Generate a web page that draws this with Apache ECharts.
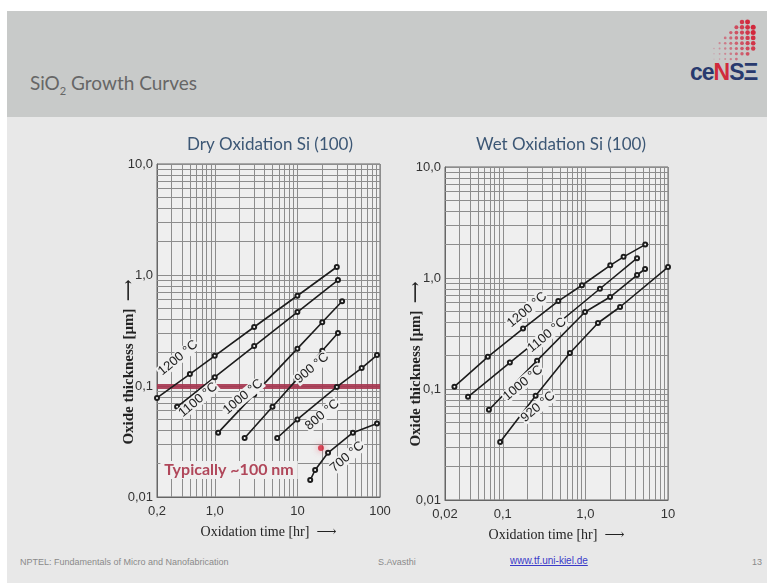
<!DOCTYPE html>
<html>
<head>
<meta charset="utf-8">
<title>SiO2 Growth Curves</title>
<script src="https://cdn.jsdelivr.net/npm/echarts@6.0.0/dist/echarts.min.js"></script>
<style>
  html, body { margin: 0; padding: 0; background: #fff; }
  #page { position: relative; width: 767px; height: 583px; overflow: hidden; background: #fff; }
  #sheet { position: absolute; left: 7px; top: 11px; right: 0; bottom: 0; background: #e8e8e8; }
  #band { position: absolute; left: 7px; top: 11px; right: 0; height: 106px; background: #c8cac9; }
  #heading { position: absolute; left: 30px; top: 71px; font: 19px Lato, "Open Sans", sans-serif; color: #666; }
  #heading sub { font-size: 11px; }
  #logo { position: absolute; left: 690px; top: 59px; font: bold 23px "Liberation Sans", Arial, sans-serif; letter-spacing: -1px; color: #283a6e; }
  #logo .n { color: #d12a3c; }
  #dots { position: absolute; left: 710px; top: 18px; }
  .foot { position: absolute; top: 557px; font: 9px "Liberation Sans Narrow", "Liberation Sans", sans-serif; color: #8a8a8a; }
  #link { color: #3a3ac8; text-decoration: underline; font-size: 10px; top: 555px; }
  #chart { position: absolute; left: 0; top: 0; width: 767px; height: 583px; }
</style>
</head>
<body>
<div id="page">
  <div id="sheet"></div>
  <div id="band"></div>
  <div id="heading">SiO<sub>2</sub> Growth Curves</div>
  <svg id="dots" width="48" height="46"></svg>
  <div id="logo">ce<span class="n">N</span>SΞ</div>
  <div class="foot" style="left:20px">NPTEL: Fundamentals of Micro and Nanofabrication</div>
  <div class="foot" style="left:378px">S.Avasthi</div>
  <div class="foot" id="link" style="left:510px">www.tf.uni-kiel.de</div>
  <div class="foot" style="left:752px">13</div>
  <div id="chart"></div>
</div>
<script>
// ---------- dry oxidation Si(100): [time hr, oxide thickness um]
const dry1200 = [[0.2, 0.078], [0.5, 0.128], [1, 0.187], [3, 0.34], [10, 0.65], [30, 1.18]];
const dry1100 = [[0.35, 0.065], [1, 0.12], [3, 0.229], [10, 0.463], [31, 0.9]];
const dry1000 = [[1.1, 0.038], [3, 0.084], [10, 0.217], [20, 0.375], [34.8, 0.58]];
const dry900  = [[2.3, 0.034], [5, 0.065], [10, 0.116], [20, 0.208], [31, 0.30]];
const dry800  = [[5.7, 0.034], [10, 0.05], [30, 0.098], [60, 0.145], [92, 0.19]];
const dry700  = [[14.3, 0.0142], [16.4, 0.0175], [23.5, 0.025], [47, 0.038], [92, 0.046]];
const dryCurves = [dry1200, dry1100, dry1000, dry900, dry800, dry700];
const dryTemps = ['1200 °C', '1100 °C', '1000 °C', '900 °C', '800 °C', '700 °C'];
const dryLabelAt = [[0.36, 0.179], [0.63, 0.075], [2.2, 0.08], [15, 0.145], [20, 0.055], [40, 0.023]];
const dryMarker = [[19.3, 0.0276]];
const typicalAt = [1.49, 0.0175];

// ---------- wet oxidation Si(100)
const wet1200 = [[0.026, 0.105], [0.066, 0.195], [0.176, 0.35], [0.47, 0.62], [0.91, 0.86], [2, 1.3], [2.9, 1.55], [5.3, 2.0]];
const wet1100 = [[0.038, 0.085], [0.122, 0.173], [0.373, 0.34], [1.5, 0.8], [4.22, 1.51]];
const wet1000 = [[0.068, 0.065], [0.26, 0.18], [0.99, 0.494], [1.99, 0.674], [4.22, 1.064], [5.28, 1.205]];
const wet920  = [[0.093, 0.0333], [0.25, 0.087], [0.65, 0.211], [1.42, 0.393], [2.63, 0.548], [10, 1.256]];
const wetCurves = [wet1200, wet1100, wet1000, wet920];
const wetTemps = ['1200 °C', '1100 °C', '1000 °C', '920 °C'];
const wetLabelAt = [[0.197, 0.515], [0.343, 0.306], [0.176, 0.113], [0.267, 0.069]];

// ---------- axes
const dryTicks = [0.2, 1, 10, 100];
const dryTickLabels = ['0,2', '1,0', '10', '100'];
const wetTicks = [0.02, 0.1, 1, 10];
const wetTickLabels = ['0,02', '0,1', '1,0', '10'];
const yTicks = [0.01, 0.1, 1, 10];
const yTickLabels = ['0,01', '0,1', '1,0', '10,0'];

function tickText(ticks, labels) {
  return function (v) {
    const i = ticks.findIndex(t => Math.abs(Math.log10(t / v)) < 0.01);
    return i >= 0 ? labels[i] : '';
  };
}

// 2..9 lines inside each decade of a log range
function logGrid(min, max) {
  const out = [];
  for (let e = Math.floor(Math.log10(min)); e <= Math.ceil(Math.log10(max)); e++) {
    for (let k = 2; k <= 9; k++) {
      const v = k * Math.pow(10, e);
      if (v > min * 1.0001 && v < max * 0.9999) out.push(v);
    }
  }
  return out;
}

const gridColor = '#8d8d8d';
const plotBg = '#efefef';
const ink = '#1c1c1c';
const tickFont = "'Liberation Sans Narrow', 'Liberation Sans', sans-serif";
const serif = "'Liberation Serif', 'DejaVu Serif', serif";

function xAxisFor(idx, min, max, ticks, labels) {
  return {
    type: 'log', logBase: 10, gridIndex: idx, min: min, max: max,
    axisLine: { lineStyle: { color: '#666' } },
    axisTick: { show: false },
    axisLabel: { formatter: tickText(ticks, labels), color: '#333', fontSize: 13, fontFamily: tickFont, margin: 8, showMinLabel: true, showMaxLabel: true },
    splitLine: { show: true, lineStyle: { color: gridColor, width: 1 } },
    name: 'Oxidation time [hr]  ⟶', nameLocation: 'middle', nameGap: 28,
    nameTextStyle: { fontFamily: serif, fontSize: 14, color: '#222' }
  };
}
function yAxisFor(idx) {
  return {
    type: 'log', logBase: 10, gridIndex: idx, min: 0.01, max: 10,
    axisLine: { lineStyle: { color: '#666' } },
    axisTick: { show: false },
    axisLabel: { formatter: tickText(yTicks, yTickLabels), color: '#333', fontSize: 13, fontFamily: tickFont, margin: 4, showMinLabel: true, showMaxLabel: true },
    splitLine: { show: true, lineStyle: { color: gridColor, width: 1 } }
  };
}

function minorLines(idx, xMin, xMax) {
  const data = logGrid(xMin, xMax).map(v => ({ xAxis: v }))
    .concat(logGrid(0.01, 10).map(v => ({ yAxis: v })));
  return {
    type: 'line', xAxisIndex: idx, yAxisIndex: idx, data: [], silent: true, z: 1,
    markLine: { silent: true, symbol: ['none', 'none'], animation: false, label: { show: false },
      lineStyle: { type: 'solid', color: gridColor, width: 1 }, data: data }
  };
}

function curve(data, idx) {
  return {
    type: 'line', xAxisIndex: idx, yAxisIndex: idx, data: data, silent: true, z: 5,
    symbol: 'emptyCircle', symbolSize: 4, showAllSymbol: true,
    lineStyle: { color: ink, width: 1.6 },
    itemStyle: { color: ink, borderColor: '#444', borderWidth: 1 }
  };
}

const series = [minorLines(0, 0.2, 100), minorLines(1, 0.02, 10)];
dryCurves.forEach(d => series.push(curve(d, 0)));
wetCurves.forEach(d => series.push(curve(d, 1)));
// typical target thickness line
series.push({
  type: 'line', xAxisIndex: 0, yAxisIndex: 0, data: [], silent: true, z: 6,
  markLine: { silent: true, symbol: ['none', 'none'], animation: false, label: { show: false },
    lineStyle: { type: 'solid', color: 'rgba(165,52,78,0.9)', width: 5 }, data: [{ yAxis: 0.1 }] }
});
series.push({
  type: 'scatter', xAxisIndex: 0, yAxisIndex: 0, data: dryMarker, z: 7, silent: true,
  symbolSize: 6, itemStyle: { color: '#d2243a', shadowBlur: 6, shadowColor: 'rgba(230,90,110,0.9)' }
});

const chart = echarts.init(document.getElementById('chart'));
chart.setOption({
  animation: false,
  title: [
    { text: 'Dry Oxidation Si (100)', left: 265, top: 131, textAlign: 'center',
      textStyle: { fontFamily: 'Lato, sans-serif', fontWeight: 'normal', fontSize: 17, color: '#3c5775' } },
    { text: 'Wet Oxidation Si (100)', left: 556, top: 131, textAlign: 'center',
      textStyle: { fontFamily: 'Lato, sans-serif', fontWeight: 'normal', fontSize: 17, color: '#3c5775' } }
  ],
  grid: [
    { left: 157, top: 164, width: 223, height: 333, show: true, backgroundColor: plotBg, borderColor: '#666', borderWidth: 1 },
    { left: 445, top: 167, width: 223, height: 333, show: true, backgroundColor: plotBg, borderColor: '#666', borderWidth: 1 }
  ],
  xAxis: [xAxisFor(0, 0.2, 100, dryTicks, dryTickLabels), xAxisFor(1, 0.02, 10, wetTicks, wetTickLabels)],
  yAxis: [yAxisFor(0), yAxisFor(1)],
  series: series
});

// curve labels placed through the axes
const graphics = [];
function addLabel(idx, at, text) {
  const p = chart.convertToPixel({ gridIndex: idx }, at);
  graphics.push({
    type: 'text', x: p[0], y: p[1], rotation: 40 * Math.PI / 180, z: 20,
    style: { text: text, fill: '#222', font: "13px " + tickFont, align: 'center', verticalAlign: 'middle',
      backgroundColor: plotBg, padding: [0, 1] }
  });
}
dryLabelAt.forEach((at, i) => addLabel(0, at, dryTemps[i]));
wetLabelAt.forEach((at, i) => addLabel(1, at, wetTemps[i]));
const tp = chart.convertToPixel({ gridIndex: 0 }, typicalAt);
graphics.push({
  type: 'text', x: tp[0], y: tp[1], z: 20,
  style: { text: 'Typically ~100 nm', fill: '#b0475a', font: "bold 16px Lato, sans-serif", align: 'center', verticalAlign: 'middle',
    backgroundColor: plotBg, padding: [1, 4] }
});
// vertical axis names
[[129, 362], [416, 364]].forEach(c => {
  graphics.push({
    type: 'text', x: c[0], y: c[1], rotation: Math.PI / 2, z: 20,
    style: { text: 'Oxide thickness [µm]  ⟶', fill: '#222', font: "bold 15px " + serif, align: 'center', verticalAlign: 'middle' }
  });
});
chart.setOption({ graphic: graphics });

// logo dot cluster
const rows = [[5, 6], [4, 7], [3, 7], [2, 7], [1, 7], [0, 7], [0, 6], [0, 4]];
let svg = '';
rows.forEach((span, r) => {
  for (let c = span[0]; c <= span[1]; c++) {
    const k = Math.min(1, (c / 7) * 0.75 + (1 - r / 7) * 0.35);
    const rad = 0.6 + 1.9 * k;
    const g = Math.round(170 - 130 * k), b = Math.round(180 - 120 * k);
    svg += '<circle cx="' + (4 + c * 5.6) + '" cy="' + (4 + r * 5.3) + '" r="' + rad.toFixed(2) + '" fill="rgb(' + Math.round(200 + 10 * k) + ',' + g + ',' + b + ')"/>';
  }
});
document.getElementById('dots').innerHTML = svg;
</script>
</body>
</html>
